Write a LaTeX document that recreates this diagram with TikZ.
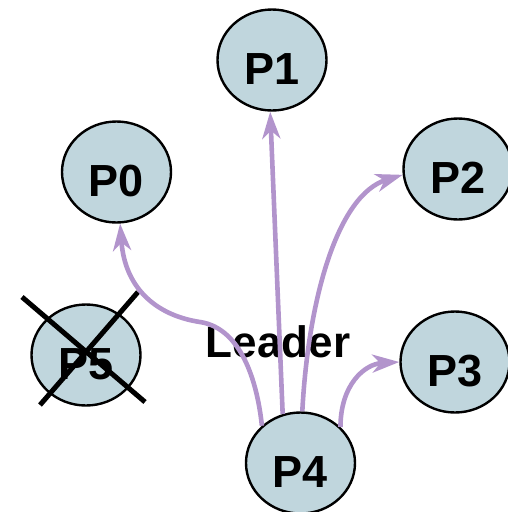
\documentclass[tikz,border=0pt]{standalone}
\usepackage{fontspec}
\setmainfont{Liberation Sans}
\usetikzlibrary{shapes.geometric,arrows.meta}
\definecolor{nodefill}{RGB}{192,214,221}
\definecolor{edgepurple}{RGB}{178,148,204}
\tikzset{
  proc/.style={ellipse, draw=black, line width=2.4pt, fill=nodefill,
    minimum width=109pt, minimum height=101pt, inner sep=0pt,
    text height=48pt, text depth=0pt,
    font=\fontsize{45}{45}\selectfont\bfseries},
  msg/.style={draw=edgepurple, line width=4.6pt,
    -{Stealth[length=27pt,width=18pt,inset=8pt]}},
  crossline/.style={draw=black, line width=5pt},
  lbl/.style={font=\fontsize{44}{44}\selectfont\bfseries, inner sep=0pt}
}
\begin{document}
\begin{tikzpicture}[x=1pt,y=-1pt]
\useasboundingbox (0,0) rectangle (508,512);
\node[proc] (P1) at (272,60) {P1};
\node[proc] (P0) at (116.5,172) {P0};
\node[proc] (P2) at (458,169) {P2};
\node[proc] (P3) at (455,362) {P3};
\node[proc] (P5) at (86,355) {P5\hspace{12pt}};
\node[proc] (P4) at (300.5,463) {P4};
\node[lbl] (lead) at (278,342) {Leader};
\draw[crossline] (22,297) -- (145,402);
\draw[crossline] (138,292) -- (40,405);
\draw[msg] (P4.136) .. controls +(-5,-47) and +(40,6) .. (200,322)
  .. controls +(-40,-6) and +(5,68) .. (P0.274);
\draw[msg] (P4.110) -- (P1.268);
\draw[msg] (P4.88) .. controls +(6,-113) and +(-65,20) .. (P2.186);
\draw[msg] (P4.42) .. controls +(0,-42) and +(-35,2) .. (P3.180);
\end{tikzpicture}
\end{document}
